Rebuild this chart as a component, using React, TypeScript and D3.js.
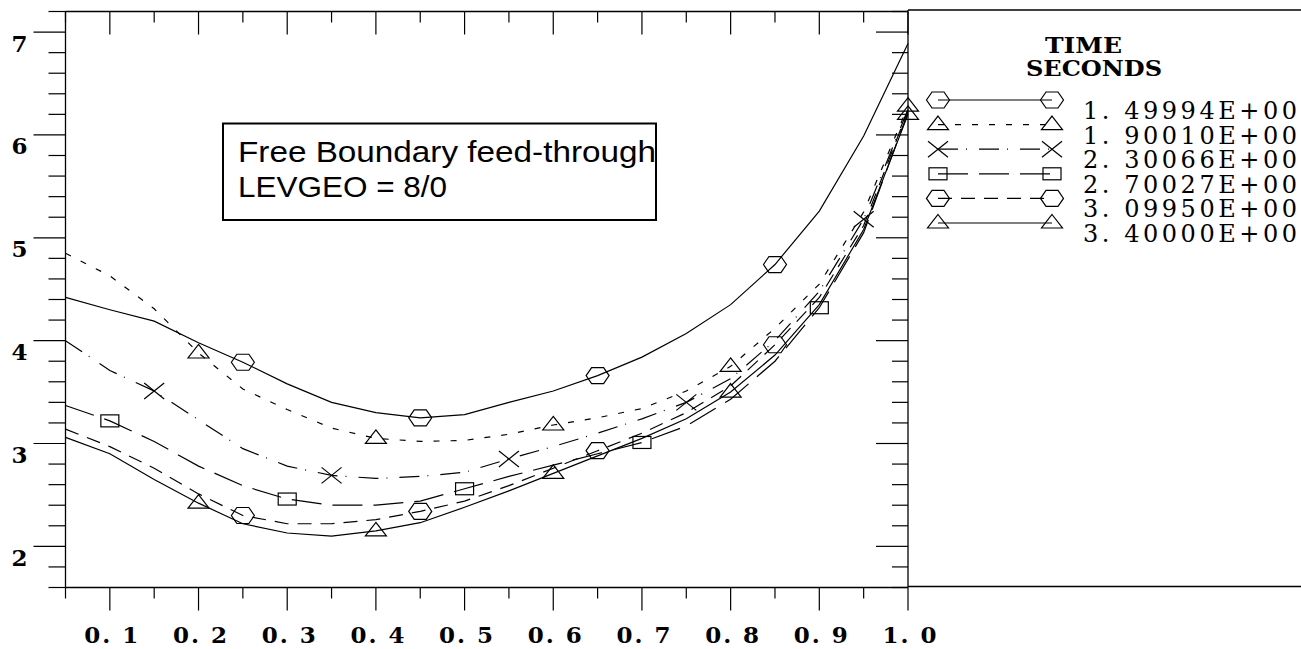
import React from "react";
import * as d3 from "d3";

const X_VALUES = [0.05, 0.1, 0.15, 0.2, 0.25, 0.3, 0.35, 0.4, 0.45, 0.5, 0.55, 0.6, 0.65, 0.7, 0.75, 0.8, 0.85, 0.9, 0.95, 1.0];

const SERIES_1 = [4.42, 4.30, 4.19, 3.98, 3.79, 3.58, 3.40, 3.30, 3.25, 3.28, 3.40, 3.51, 3.66, 3.84, 4.07, 4.35, 4.74, 5.26, 5.99, 6.89];
const SERIES_2 = [4.85, 4.63, 4.31, 3.88, 3.53, 3.33, 3.15, 3.05, 3.02, 3.03, 3.09, 3.18, 3.25, 3.34, 3.51, 3.75, 4.12, 4.55, 5.25, 6.28];
const SERIES_3 = [4.00, 3.71, 3.51, 3.23, 2.95, 2.78, 2.69, 2.66, 2.68, 2.72, 2.85, 2.97, 3.10, 3.24, 3.40, 3.63, 4.00, 4.48, 5.18, 6.25];
const SERIES_4 = [3.37, 3.22, 3.02, 2.78, 2.59, 2.46, 2.40, 2.40, 2.44, 2.56, 2.68, 2.79, 2.90, 3.01, 3.17, 3.43, 3.80, 4.32, 5.05, 6.22];
const SERIES_5 = [3.14, 2.97, 2.76, 2.51, 2.30, 2.22, 2.22, 2.26, 2.34, 2.44, 2.59, 2.76, 2.93, 3.10, 3.30, 3.56, 3.96, 4.42, 5.12, 6.24];
const SERIES_6 = [3.06, 2.90, 2.65, 2.42, 2.22, 2.13, 2.10, 2.15, 2.23, 2.38, 2.54, 2.71, 2.88, 3.05, 3.24, 3.50, 3.86, 4.35, 5.08, 6.20];

const MARKS_1 = [0.25, 0.45, 0.65, 0.85];
const MARKS_2 = [0.2, 0.4, 0.6, 0.8, 1.0];
const MARKS_3 = [0.15, 0.35, 0.55, 0.75, 0.95];
const MARKS_4 = [0.1, 0.3, 0.5, 0.7, 0.9];
const MARKS_5 = [0.25, 0.45, 0.65, 0.85];
const MARKS_6 = [0.2, 0.4, 0.6, 0.8, 1.0];

const LEGEND_LABELS = ["1. 49994E+00", "1. 90010E+00", "2. 30066E+00", "2. 70027E+00", "3. 09950E+00", "3. 40000E+00"];
const LEGEND_TITLE = ["TIME", "SECONDS"];

const X_TICK_VALUES = [0.1, 0.2, 0.3, 0.4, 0.5, 0.6, 0.7, 0.8, 0.9, 1.0];
const X_TICK_LABELS = ["0. 1", "0. 2", "0. 3", "0. 4", "0. 5", "0. 6", "0. 7", "0. 8", "0. 9", "1. 0"];
const Y_TICK_VALUES = [2, 3, 4, 5, 6, 7];
const Y_TICK_LABELS = ["2", "3", "4", "5", "6", "7"];

const NOTE_LINES = ["Free Boundary feed-through", "LEVGEO = 8/0"];

type Shape = "hex" | "tri" | "x" | "sq";

const SERIES = [
  { values: SERIES_1, marks: MARKS_1, shape: "hex" as Shape, dash: "" },
  { values: SERIES_2, marks: MARKS_2, shape: "tri" as Shape, dash: "6,11" },
  { values: SERIES_3, marks: MARKS_3, shape: "x" as Shape, dash: "20,8,1,12" },
  { values: SERIES_4, marks: MARKS_4, shape: "sq" as Shape, dash: "30,11" },
  { values: SERIES_5, marks: MARKS_5, shape: "hex" as Shape, dash: "14,9" },
  { values: SERIES_6, marks: MARKS_6, shape: "tri" as Shape, dash: "" },
];

function Marker({ shape, cx, cy }: { shape: Shape; cx: number; cy: number }) {
  const common = { stroke: "#000", strokeWidth: 1.2 };
  if (shape === "hex") {
    const pts = [[-11.5, 0], [-6, -8], [6, -8], [11.5, 0], [6, 8], [-6, 8]]
      .map(([a, b]) => `${cx + a},${cy + b}`).join(" ");
    return <polygon points={pts} {...common} fill="none" />;
  }
  if (shape === "tri") {
    const pts = [[0, -8.5], [10.5, 5], [-10.5, 5]].map(([a, b]) => `${cx + a},${cy + b}`).join(" ");
    return <polygon points={pts} {...common} fill="none" />;
  }
  if (shape === "sq") {
    return <rect x={cx - 9} y={cy - 6} width={18} height={12} {...common} fill="none" />;
  }
  return (
    <g stroke="#000" strokeWidth={1.2}>
      <line x1={cx - 10} y1={cy - 8} x2={cx + 10} y2={cy + 8} />
      <line x1={cx - 10} y1={cy + 8} x2={cx + 10} y2={cy - 8} />
    </g>
  );
}

export default function App() {
  const left = 65.5, right = 908, top = 11.5, bottom = 587.5;
  const x = d3.scaleLinear().domain([0.05, 1.0]).range([left, right]);
  const y = d3.scaleLinear().domain([1.6, 7.2]).range([bottom, top]);

  const line = d3.line<[number, number]>().x((d) => x(d[0])).y((d) => y(d[1]));

  const xMinor = d3.range(1, 21).map((i) => i / 20);
  const yMinor = d3.range(8, 37).map((i) => i / 5);

  const serif = "'DejaVu Serif', 'Liberation Serif', serif";
  const legendRowY = (i: number) => 100 + i * 24.6;

  return (
    <svg width={1301} height={649} style={{ position: "absolute", left: 0, top: 0, background: "#fff" }}>
      <rect x={0} y={0} width={1301} height={649} fill="#fff" />
      {/* frame */}
      <g stroke="#000" strokeWidth={1.3} fill="none">
        <line x1={left} y1={top} x2={left} y2={bottom} />
        <line x1={right} y1={top} x2={right} y2={bottom} />
        <line x1={left} y1={top} x2={right} y2={top} />
        <line x1={left} y1={bottom} x2={right} y2={bottom} />
        <line x1={right} y1={10} x2={1301} y2={10} />
        <line x1={right} y1={586.5} x2={1301} y2={586.5} />
        <line x1={right} y1={10} x2={right} y2={top} />
      </g>
      {/* ticks */}
      <g stroke="#000" strokeWidth={1.2}>
        {yMinor.map((v, i) => {
          const major = Math.abs(v - Math.round(v)) < 1e-6;
          const yy = y(v);
          return (
            <g key={"y" + i}>
              <line x1={left - (major ? 32 : 17)} y1={yy} x2={left} y2={yy} />
              <line x1={right - (major ? 32 : 16)} y1={yy} x2={right} y2={yy} />
            </g>
          );
        })}
        {xMinor.map((v, i) => {
          const major = (i + 1) % 2 === 0;
          const xx = x(v);
          return (
            <g key={"x" + i}>
              <line x1={xx} y1={bottom} x2={xx} y2={bottom + (major ? 23 : 11)} />
              <line x1={xx} y1={top} x2={xx} y2={top + (major ? 23 : 11)} />
            </g>
          );
        })}
      </g>
      {/* tick labels */}
      <g fontFamily={serif} fontSize={23} fontWeight="bold" fill="#000">
        {X_TICK_VALUES.map((v, i) => (
          <text key={"xl" + i} x={x(v) + 1.5 - 27} y={643} textLength={54} lengthAdjust="spacing">
            {X_TICK_LABELS[i]}
          </text>
        ))}
        {Y_TICK_VALUES.map((v, i) => (
          <text key={"yl" + i} x={19.5} y={y(v) + 19.5} textAnchor="middle">
            {Y_TICK_LABELS[i]}
          </text>
        ))}
      </g>
      {/* series */}
      <g fill="none" stroke="#000" strokeWidth={1.2}>
        {SERIES.map((s, i) => (
          <path
            key={"s" + i}
            d={line(X_VALUES.map((xv, j) => [xv, s.values[j]] as [number, number])) || ""}
            strokeDasharray={s.dash || undefined}
          />
        ))}
      </g>
      {SERIES.map((s, i) => (
        <g key={"m" + i}>
          {s.marks.map((mx, j) => {
            const idx = X_VALUES.findIndex((xv) => Math.abs(xv - mx) < 1e-6);
            return <Marker key={j} shape={s.shape} cx={x(mx)} cy={y(s.values[idx])} />;
          })}
        </g>
      ))}
      {/* annotation */}
      <rect x={223} y={123.5} width={433} height={96.5} fill="none" stroke="#000" strokeWidth={2} />
      <g fontFamily="'Liberation Sans', Arial, sans-serif" fontSize={30} fill="#000">
        <text x={238} y={162} textLength={418} lengthAdjust="spacingAndGlyphs">{NOTE_LINES[0]}</text>
        <text x={238} y={197} textLength={209} lengthAdjust="spacingAndGlyphs">{NOTE_LINES[1]}</text>
      </g>
      {/* legend */}
      <g fontFamily={serif} fill="#000">
        <text x={1045} y={53} fontSize={23} fontWeight="bold" textLength={77} lengthAdjust="spacingAndGlyphs">{LEGEND_TITLE[0]}</text>
        <text x={1026} y={76} fontSize={23} fontWeight="bold" textLength={136} lengthAdjust="spacingAndGlyphs">{LEGEND_TITLE[1]}</text>
        {SERIES.map((s, i) => {
          const yy = legendRowY(i);
          return (
            <g key={"lg" + i}>
              <line x1={938} y1={yy} x2={1052} y2={yy} stroke="#000" strokeWidth={1.2} strokeDasharray={s.dash || undefined} />
              <Marker shape={s.shape} cx={938} cy={yy} />
              <Marker shape={s.shape} cx={1052} cy={yy} />
              <text x={1083} y={yy + 19} fontSize={24} textLength={214} lengthAdjust="spacing">
                {LEGEND_LABELS[i]}
              </text>
            </g>
          );
        })}
      </g>
    </svg>
  );
}
